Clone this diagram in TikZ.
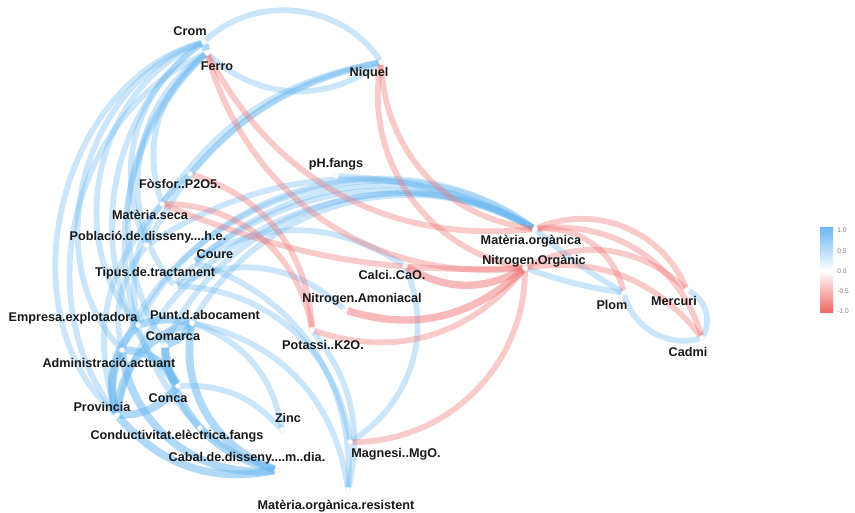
\documentclass[tikz,border=0pt]{standalone}
\usepackage{fontspec}
\setmainfont{Liberation Sans}
\usetikzlibrary{backgrounds}

\definecolor{posc}{RGB}{110,185,240}
\definecolor{negc}{RGB}{240,115,115}
\definecolor{lblc}{RGB}{25,25,25}

\begin{document}
\begin{tikzpicture}[x=0.02cm, y=0.02cm,
    pt/.style={circle, fill=white, draw=gray!25, line width=0.2pt, inner sep=0pt, minimum size=0.1cm},
    lbl/.style={font=\fontsize{7.2}{8}\selectfont\bfseries, text=lblc, inner sep=0pt},
    posw/.style={draw=posc, line width=3.3pt, opacity=0.36},
    poss/.style={draw=posc, line width=4.4pt, opacity=0.55},
    negw/.style={draw=negc, line width=3.3pt, opacity=0.38},
    negs/.style={draw=negc, line width=4.2pt, opacity=0.5},
    tick/.style={font=\fontsize{3.8}{4}\selectfont, text=gray, anchor=west, inner sep=0pt}
]
\useasboundingbox (0,0) rectangle (855,-513);

% Variables
\node[pt] (crom) at (204,-42) {};
\node[pt] (ferro) at (207,-53) {};
\node[pt] (niquel) at (381,-62) {};
\node[pt] (phf) at (336,-176) {};
\node[pt] (fosfor) at (190,-174) {};
\node[pt] (mseca) at (162,-204) {};
\node[pt] (pobl) at (147,-245) {};
\node[pt] (coure) at (193,-262) {};
\node[pt] (tipus) at (175,-286) {};
\node[pt] (empresa) at (138,-325) {};
\node[pt] (punt) at (192,-323) {};
\node[pt] (comarca) at (165,-345) {};
\node[pt] (admin) at (122,-350) {};
\node[pt] (prov) at (117,-415) {};
\node[pt] (conca) at (178,-386) {};
\node[pt] (cond) at (200,-428) {};
\node[pt] (zinc) at (282,-430) {};
\node[pt] (cabal) at (277,-470) {};
\node[pt] (magnesi) at (350,-442) {};
\node[pt] (morgres) at (348,-490) {};
\node[pt] (potassi) at (312,-330) {};
\node[pt] (namon) at (345,-310) {};
\node[pt] (calci) at (405,-266) {};
\node[pt] (morg) at (535,-229) {};
\node[pt] (norg) at (525,-268) {};
\node[pt] (plom) at (624,-293) {};
\node[pt] (mercuri) at (687,-290) {};
\node[pt] (cadmi) at (702,-338) {};

% Labels
\node[lbl] (lcrom) at (190,-31) {Crom};
\node[lbl] (lferro) at (217,-66) {Ferro};
\node[lbl] (lniquel) at (369,-73) {Niquel};
\node[lbl] (lphf) at (336,-164) {pH.fangs};
\node[lbl] (lfosfor) at (180,-184) {Fòsfor..P2O5.};
\node[lbl] (lmseca) at (150,-215) {Matèria.seca};
\node[lbl] (lpobl) at (148,-237) {Població.de.disseny....h.e.};
\node[lbl] (lcoure) at (215,-254) {Coure};
\node[lbl] (ltipus) at (155,-273) {Tipus.de.tractament};
\node[lbl] (lempresa) at (73,-318) {Empresa.explotadora};
\node[lbl] (lpunt) at (205,-315) {Punt.d.abocament};
\node[lbl] (lcomarca) at (173,-336) {Comarca};
\node[lbl] (ladmin) at (109,-363) {Administració.actuant};
\node[lbl] (lprov) at (102,-407) {Provincia};
\node[lbl] (lconca) at (168,-398) {Conca};
\node[lbl] (lcond) at (177,-436) {Conductivitat.elèctrica.fangs};
\node[lbl] (lzinc) at (288,-418) {Zinc};
\node[lbl] (lcabal) at (247,-458) {Cabal.de.disseny....m..dia.};
\node[lbl] (lmagnesi) at (396,-454) {Magnesi..MgO.};
\node[lbl] (lmorgres) at (336,-506) {Matèria.orgànica.resistent};
\node[lbl] (lpotassi) at (323,-345) {Potassi..K2O.};
\node[lbl] (lnamon) at (362,-299) {Nitrogen.Amoniacal};
\node[lbl] (lcalci) at (392,-275) {Calci..CaO.};
\node[lbl] (lmorg) at (531,-241) {Matèria.orgànica};
\node[lbl] (lnorg) at (534,-261) {Nitrogen.Orgànic};
\node[lbl] (lplom) at (612,-305) {Plom};
\node[lbl] (lmercuri) at (674,-301) {Mercuri};
\node[lbl] (lcadmi) at (688,-352) {Cadmi};

\begin{pgfonlayer}{background}
% positive correlations
\draw[poss] (crom) -- (ferro);
\draw[posw] (crom) to[bend left=50] (niquel);
\draw[posw] (ferro) to[bend right=40] (niquel);
\draw[posw] (niquel) to[bend right=22] (mseca);
\draw[posw] (niquel) to[bend right=25] (pobl);
\draw[posw] (niquel) to[bend right=18] (fosfor);
\draw[posw] (crom) to[bend right=62] (prov);
\draw[posw] (crom) to[bend right=58] (admin);
\draw[posw] (crom) to[bend right=50] (conca);
\draw[posw] (crom) to[bend right=55] (empresa);
\draw[posw] (ferro) to[bend right=52] (prov);
\draw[posw] (ferro) to[bend right=45] (cond);
\draw[posw] (ferro) to[bend right=48] (tipus);
\draw[posw] (crom) to[bend right=40] (pobl);
\draw[posw] (ferro) to[bend right=35] (mseca);
\draw[posw] (ferro) to[bend right=40] (comarca);
\draw[posw] (empresa) to[bend left=50] (morg);
\draw[posw] (punt) to[bend left=45] (morg);
\draw[posw] (comarca) to[bend left=48] (morg);
\draw[posw] (admin) to[bend left=52] (morg);
\draw[posw] (tipus) to[bend left=40] (morg);
\draw[posw] (coure) to[bend left=32] (morg);
\draw[posw] (pobl) to[bend left=30] (morg);
\draw[posw] (prov) to[bend left=55] (morg);
\draw[posw] (phf) to[bend left=12] (morg);
\draw[posw] (coure) to[bend left=32] (calci);
\draw[posw] (tipus) to[bend left=35] (namon);
\draw[poss] (punt) to[bend right=40] (cabal);
\draw[poss] (comarca) to[bend right=35] (cabal);
\draw[poss] (admin) to[bend right=45] (cabal);
\draw[poss] (prov) to[bend right=30] (cabal);
\draw[posw] (cond) to[bend right=10] (cabal);
\draw[posw] (punt) to[bend left=35] (morgres);
\draw[posw] (coure) to[bend left=38] (morgres);
\draw[posw] (tipus) to[bend left=40] (magnesi);
\draw[posw] (punt) to[bend left=30] (zinc);
\draw[posw] (conca) to[bend left=25] (zinc);
\draw[posw] (calci) to[bend left=40] (magnesi);
\draw[posw] (potassi) to[bend left=25] (morgres);
\draw[poss] (prov) to[bend left=20] (admin);
\draw[poss] (prov) to[bend right=25] (conca);
\draw[poss] (admin) to[bend left=30] (conca);
\draw[poss] (prov) to[bend left=35] (punt);
\draw[poss] (empresa) to[bend right=30] (prov);
\draw[poss] (comarca) to[bend right=20] (conca);
\draw[poss] (punt) to[bend left=20] (comarca);
\draw[poss] (empresa) to[bend left=15] (punt);
\draw[posw] (mseca) to[bend right=30] (prov);
\draw[posw] (pobl) to[bend right=25] (admin);
\draw[posw] (fosfor) to[bend right=30] (empresa);
\draw[posw] (morg) to[bend right=5] (plom);
\draw[posw] (norg) to[bend right=5] (plom);
\draw[posw] (plom) to[bend right=45] (cadmi);
\draw[posw] (mercuri) to[bend left=45] (cadmi);
% negative correlations
\draw[negw] (ferro) to[bend right=40] (norg);
\draw[negw] (ferro) to[bend right=34] (morg);
\draw[negw] (niquel) to[bend right=45] (norg);
\draw[negw] (niquel) to[bend right=40] (morg);
\draw[negw] (mseca) to[bend left=40] (potassi);
\draw[negw] (fosfor) to[bend left=35] (potassi);
\draw[negw] (mseca) to[bend right=12] (norg);
\draw[negs] (calci) to[bend right=30] (norg);
\draw[negs] (namon) to[bend right=30] (norg);
\draw[negw] (potassi) to[bend right=35] (norg);
\draw[negw] (magnesi) to[bend right=45] (norg);
\draw[negw] (morg) to[bend left=45] (mercuri);
\draw[negw] (morg) to[bend left=40] (cadmi);
\draw[negw] (norg) to[bend left=30] (cadmi);
\draw[negw] (norg) to[bend left=35] (mercuri);
\draw[negw] (morg) to[bend left=40] (plom);
\end{pgfonlayer}

% Legend
\shade[top color=posc, bottom color=white] (820,-228) rectangle (833,-271);
\shade[top color=white, bottom color=negc!90!red] (820,-271) rectangle (833,-312);
\node[tick] (t1) at (837,-230) {1.0};
\node[tick] (t2) at (837,-251) {0.5};
\node[tick] (t3) at (837,-271) {0.0};
\node[tick] (t4) at (837,-291) {-0.5};
\node[tick] (t5) at (837,-311) {-1.0};
\end{tikzpicture}
\end{document}
